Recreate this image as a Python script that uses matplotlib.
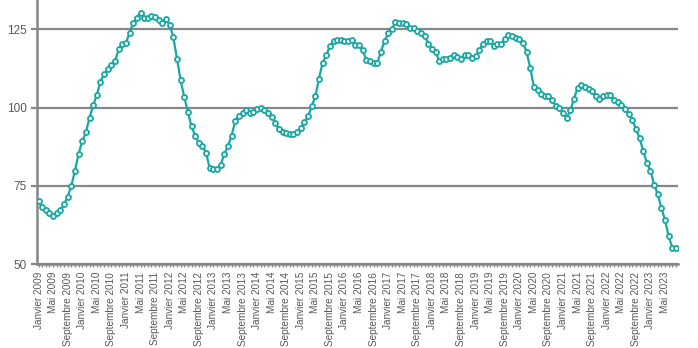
import numpy as np
import matplotlib.pyplot as plt

# monthly index, Janvier 2009 -> Aout 2023
values = [
    70.1, 68.2, 67.4, 66.2, 65.4, 66.3, 67.2, 69.1, 71.6, 75.0, 79.9, 85.2,   # 2009
    89.3, 92.1, 96.8, 100.7, 104.1, 108.3, 110.7, 112.2, 113.5, 114.9, 118.6, 120.5,  # 2010
    120.7, 123.9, 127.1, 128.8, 130.3, 128.7, 128.7, 129.3, 129.1, 128.0, 126.9, 128.3,  # 2011
    126.4, 122.6, 115.7, 108.8, 103.4, 98.6, 94.0, 91.1, 88.8, 87.7, 85.6, 80.6,  # 2012
    80.3, 80.3, 81.7, 85.3, 87.6, 91.1, 95.7, 97.4, 98.3, 99.1, 98.3, 98.6,  # 2013
    99.6, 99.8, 99.4, 98.3, 97.0, 95.1, 93.1, 92.2, 91.9, 91.7, 91.5, 92.2,  # 2014
    93.5, 95.4, 97.2, 100.4, 103.6, 109.3, 114.4, 116.7, 119.8, 121.2, 121.6, 121.5,  # 2015
    121.4, 121.2, 121.5, 120.0, 120.1, 118.4, 115.2, 115.0, 114.3, 114.3, 117.8, 121.4,  # 2016
    123.7, 125.1, 127.4, 127.1, 127.0, 126.6, 125.3, 125.5, 124.6, 124.0, 123.0, 120.5,  # 2017
    118.9, 117.8, 115.0, 115.6, 115.6, 115.8, 116.7, 116.2, 115.4, 116.7, 116.7, 115.9,  # 2018
    116.4, 118.3, 120.3, 121.3, 121.4, 119.7, 120.5, 120.5, 121.8, 123.1, 122.9, 122.3,  # 2019
    121.8, 120.8, 117.8, 112.7, 106.6, 105.8, 104.5, 103.7, 103.7, 102.3, 100.6, 99.9,  # 2020
    98.4, 96.7, 99.1, 102.8, 106.4, 107.1, 106.6, 106.1, 105.3, 103.6, 102.9, 103.7,  # 2021
    104.0, 104.2, 102.3, 101.7, 100.7, 99.7, 98.1, 96.2, 93.2, 90.3, 86.3, 82.4,  # 2022
    79.9, 75.4, 72.4, 67.9, 64.1, 58.9, 55.3, 55.0,  # 2023
]
month_names = ["Janvier", "Mai", "Septembre"]
years = list(range(2009, 2024))
tick_labels = [f"{m} {y}" for y in years for m in month_names][:44]

x = np.arange(len(values))
teal = '#17a8a3'
gray = '#878787'
txt = '#595959'

plt.rcParams['font.family'] = ['Liberation Sans', 'DejaVu Sans']
fig = plt.figure(figsize=(6.98, 3.48), dpi=100)
ax = fig.add_axes([0.0526, 0.241, 0.9184, 0.759])

ax.plot(x, values, color=teal, lw=1.6, marker='o', ms=3.6,
        mfc='white', mec=teal, mew=1.3, zorder=3)

ax.set_xlim(-0.5, len(values) - 0.5)
ax.set_ylim(50, 134.4)
ax.set_yticks([50, 75, 100, 125])
ax.yaxis.grid(True, color=gray, lw=1.6)
ax.set_axisbelow(True)

ax.set_xticks(x[::4])
ax.set_xticklabels(tick_labels, rotation=90, fontsize=7.2, color=txt)
ax.set_xticks(x, minor=True)
ax.tick_params(axis='x', which='both', length=2.5, width=1, color=gray, pad=3)
ax.tick_params(axis='y', length=4, width=1.6, color=gray, labelsize=8.5, labelcolor=txt, pad=3)

for s in ['top', 'right']:
    ax.spines[s].set_visible(False)
ax.spines['left'].set_color(gray)
ax.spines['left'].set_linewidth(1.8)
ax.spines['bottom'].set_color(gray)
ax.spines['bottom'].set_linewidth(1.8)

fig.savefig('out.png', dpi=100)
